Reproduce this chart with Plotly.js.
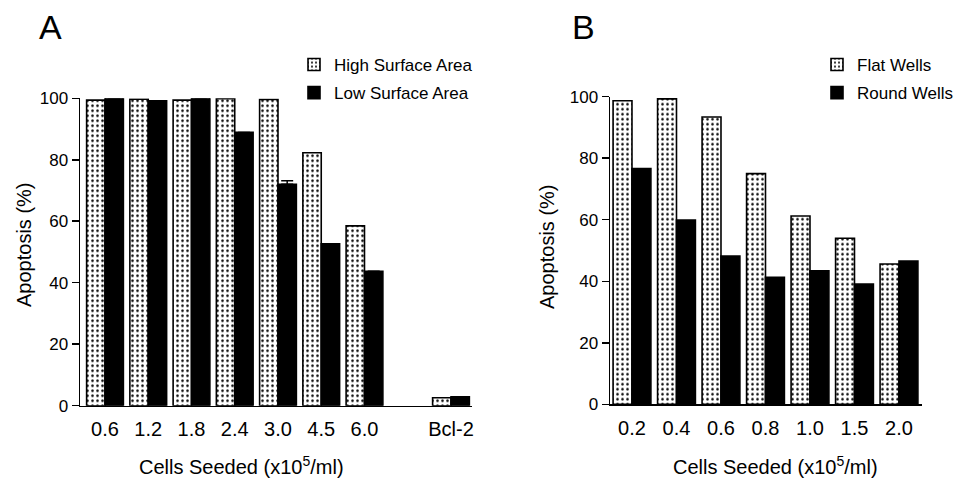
<!DOCTYPE html>
<html>
<head>
<meta charset="utf-8">
<script src="https://cdn.plot.ly/plotly-3.0.1.min.js"></script>
<style>html,body{margin:0;padding:0;background:#fff;}#chart{width:962px;height:482px;}</style>
</head>
<body>
<div id="chart"></div>
<script>
// Panel A data
const catsA = ['0.6', '1.2', '1.8', '2.4', '3.0', '4.5', '6.0', ' ', 'Bcl-2'];
const highSurface = [99.4, 99.7, 99.4, 99.9, 99.6, 82.3, 58.5, null, 2.6];
const lowSurface = [100.2, 99.2, 100.2, 88.9, 72.0, 52.7, 43.7, null, 2.9];
const lowSurfaceErr = [null, null, null, null, 1.2, null, null, null, null];

// Panel B data
const catsB = ['0.2', '0.4', '0.6', '0.8', '1.0', '1.5', '2.0'];
const flatWells = [98.7, 99.3, 93.4, 75.0, 61.2, 54.0, 45.6];
const roundWells = [76.6, 59.9, 48.2, 41.3, 43.4, 39.1, 46.6];

const yTicks = [0, 20, 40, 60, 80, 100];

const FONT = 'Liberation Sans, Arial, Helvetica, sans-serif';
const dotted = {shape: '.', fgcolor: '#000', bgcolor: '#fff', size: 5, solidity: 0.2};

const traces = [
  {type: 'bar', x: catsA, y: highSurface, name: 'High Surface Area', xaxis: 'x', yaxis: 'y', legend: 'legend', legendgroup: 'a1',
   marker: {color: '#fff', pattern: dotted, line: {color: '#000', width: 1.6}}},
  {type: 'bar', x: catsA, y: lowSurface, name: 'Low Surface Area', xaxis: 'x', yaxis: 'y', legend: 'legend', legendgroup: 'a2',
   marker: {color: '#000', line: {color: '#000', width: 1.6}},
   error_y: {type: 'data', symmetric: false, array: lowSurfaceErr, arrayminus: lowSurfaceErr.map(v => v == null ? null : 0), color: '#000', thickness: 1.5, width: 6}},
  {type: 'bar', x: catsB, y: flatWells, name: 'Flat Wells', xaxis: 'x2', yaxis: 'y2', legend: 'legend2', legendgroup: 'b1',
   marker: {color: '#fff', pattern: dotted, line: {color: '#000', width: 1.6}}},
  {type: 'bar', x: catsB, y: roundWells, name: 'Round Wells', xaxis: 'x2', yaxis: 'y2', legend: 'legend2', legendgroup: 'b2',
   marker: {color: '#000', line: {color: '#000', width: 1.6}}}
];

const yax = (domain) => ({
  domain: domain, range: [0, 100], tickvals: yTicks, ticks: 'outside', ticklen: 7, tickwidth: 1.5, tickcolor: '#000',
  showline: true, linecolor: '#000', linewidth: 1.5, showgrid: false, zeroline: false,
  tickfont: {family: FONT, size: 17, color: '#000'}, fixedrange: true
});
const xax = (domain, cats, range, anchor) => ({
  domain: domain, type: 'category', categoryorder: 'array', categoryarray: cats, range: range,
  tickmode: 'array', tickvals: cats.filter(c => c.trim() !== ''),
  anchor: anchor, showline: true, linecolor: '#000', linewidth: 1.5, ticks: '', showgrid: false, zeroline: false,
  tickfont: {family: FONT, size: 20, color: '#000'}, ticklabelstandoff: 5, fixedrange: true
});

const legendBase = {
  xanchor: 'left', yanchor: 'top', bgcolor: 'rgba(0,0,0,0)', borderwidth: 0,
  font: {family: FONT, size: 17, color: '#000'}, tracegroupgap: 3, traceorder: 'grouped'
};

const ann = (text, x, y, size, angle) => ({
  text: text, xref: 'paper', yref: 'paper', x: x / 962, y: 1 - y / 482, xanchor: 'center', yanchor: 'middle',
  textangle: angle || 0, showarrow: false, font: {family: FONT, size: size, color: '#000'}
});

const layout = {
  width: 962, height: 482,
  margin: {l: 0, r: 0, t: 0, b: 0},
  paper_bgcolor: '#fff', plot_bgcolor: '#fff',
  font: {family: FONT, color: '#000'},
  barmode: 'group', bargap: 0.15, bargroupgap: 0,
  showlegend: true,
  xaxis: xax([80 / 962, 472 / 962], catsA, [-0.578, 8.486], 'y'),
  yaxis: yax([0.1583, 0.7961]),
  xaxis2: xax([610 / 962, 922 / 962], catsB, [-0.494, 6.517], 'y2'),
  yaxis2: Object.assign(yax([0.1612, 0.7994]), {anchor: 'x2'}),
  legend: Object.assign({}, legendBase, {x: 294 / 962, y: 1 - 47 / 482}),
  legend2: Object.assign({}, legendBase, {x: 817 / 962, y: 1 - 47 / 482}),
  annotations: [
    ann('A', 50, 27, 34),
    ann('B', 583, 27, 34),
    ann('Apoptosis (%)', 24, 245, 20, -90),
    ann('Apoptosis (%)', 547, 247, 20, -90),
    ann('Cells Seeded (x10<sup>5</sup>/ml)', 241, 465, 20),
    ann('Cells Seeded (x10<sup>5</sup>/ml)', 775, 465, 20)
  ]
};

Plotly.newPlot('chart', traces, layout, {displayModeBar: false, staticPlot: true});
</script>
</body>
</html>
